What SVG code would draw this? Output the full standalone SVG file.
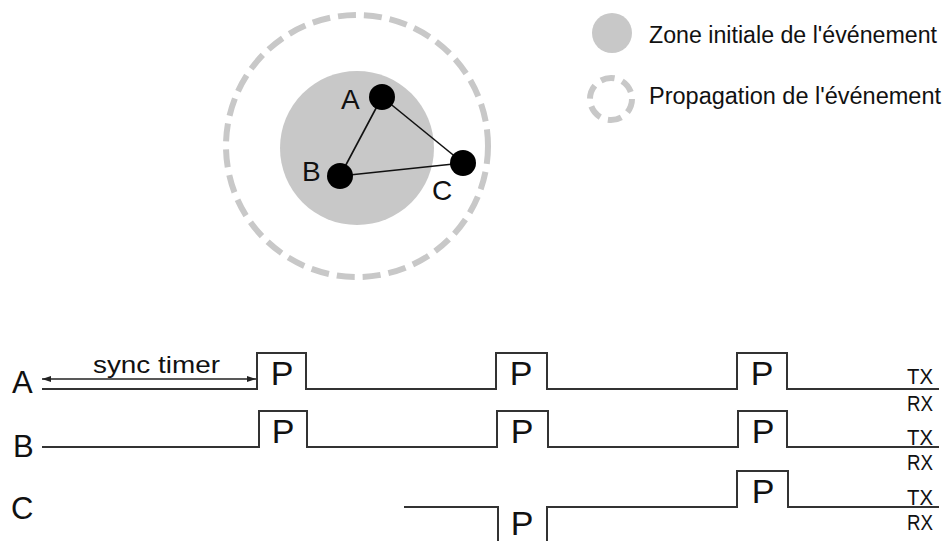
<svg xmlns="http://www.w3.org/2000/svg" width="949" height="541" viewBox="0 0 949 541">
<style>
  text { font-family: "Liberation Sans", "DejaVu Sans", sans-serif; fill: #111; }
  .sig { fill: none; stroke: #333; stroke-width: 2; }
  .edge { stroke: #111; stroke-width: 1.6; }
  .node { fill: #000; }
  .zone { fill: #c8c8c8; }
  .prop { fill: none; stroke: #c8c8c8; stroke-width: 6; }
  .lbl { font-size: 28px; }
  .row { font-size: 31px; }
  .p { font-size: 34px; text-anchor: middle; }
  .trx { font-size: 22px; }
  .leg { font-size: 23px; }
</style>
<defs>
  <marker id="arr" markerWidth="10" markerHeight="8" refX="9" refY="4" orient="auto-start-reverse" markerUnits="userSpaceOnUse">
    <path d="M0,1 L9,4 L0,7 Z" fill="#222"/>
  </marker>
</defs>
<rect width="949" height="541" fill="#fff"/>

<g id="propagation">
  <circle class="prop" cx="357" cy="146" r="131" stroke-dasharray="18 8"/>
</g>
<g id="zone">
  <circle class="zone" cx="357" cy="148" r="77"/>
</g>
<g id="edges">
  <line class="edge" x1="382" y1="97" x2="340" y2="176"/>
  <line class="edge" x1="382" y1="97" x2="463" y2="163"/>
  <line class="edge" x1="340" y1="176" x2="463" y2="163"/>
</g>
<g id="nodeA">
  <circle class="node" cx="382" cy="97" r="13"/>
  <text class="lbl" x="341" y="109">A</text>
</g>
<g id="nodeB">
  <circle class="node" cx="340" cy="176" r="13"/>
  <text class="lbl" x="302" y="181">B</text>
</g>
<g id="nodeC">
  <circle class="node" cx="463" cy="163" r="13"/>
  <text class="lbl" x="432" y="200">C</text>
</g>

<g id="legend">
  <circle class="zone" cx="612" cy="33" r="20"/>
  <text class="leg" x="649" y="43" textLength="288" lengthAdjust="spacingAndGlyphs">Zone initiale de l'événement</text>
  <circle class="prop" cx="611" cy="99" r="21" stroke-dasharray="14 8"/>
  <text class="leg" x="649" y="104" textLength="292" lengthAdjust="spacingAndGlyphs">Propagation de l'événement</text>
</g>

<g id="timing">
  <g id="rowA">
    <text class="row" x="12" y="393">A</text>
    <path class="sig" d="M42,389 H257 V353 H306 V389 H496 V353 H547 V389 H737 V353 H787 V389 H939"/>
    <line x1="42" y1="379" x2="256" y2="379" stroke="#222" stroke-width="1.5" marker-start="url(#arr)" marker-end="url(#arr)"/>
    <text x="93" y="373" font-size="24" textLength="127" lengthAdjust="spacingAndGlyphs">sync timer</text>
    <text class="p" x="282" y="385">P</text>
    <text class="p" x="521" y="385">P</text>
    <text class="p" x="762" y="385">P</text>
    <text class="trx" x="907" y="384" textLength="26" lengthAdjust="spacingAndGlyphs">TX</text>
    <text class="trx" x="907" y="411" textLength="26" lengthAdjust="spacingAndGlyphs">RX</text>
  </g>
  <g id="rowB">
    <text class="row" x="13" y="457">B</text>
    <path class="sig" d="M42,447 H259 V411 H307 V447 H497 V411 H548 V447 H738 V411 H787 V447 H939"/>
    <text class="p" x="283" y="443">P</text>
    <text class="p" x="522" y="443">P</text>
    <text class="p" x="763" y="443">P</text>
    <text class="trx" x="907" y="445" textLength="26" lengthAdjust="spacingAndGlyphs">TX</text>
    <text class="trx" x="907" y="470" textLength="26" lengthAdjust="spacingAndGlyphs">RX</text>
  </g>
  <g id="rowC">
    <text class="row" x="11" y="519">C</text>
    <path class="sig" d="M404,507 H498 V541"/>
    <path class="sig" d="M547,541 V507 H737 V471 H788 V507 H939"/>
    <text class="p" x="522" y="535">P</text>
    <text class="p" x="763" y="503">P</text>
    <text class="trx" x="907" y="505" textLength="26" lengthAdjust="spacingAndGlyphs">TX</text>
    <text class="trx" x="907" y="530" textLength="26" lengthAdjust="spacingAndGlyphs">RX</text>
  </g>
</g>
</svg>
